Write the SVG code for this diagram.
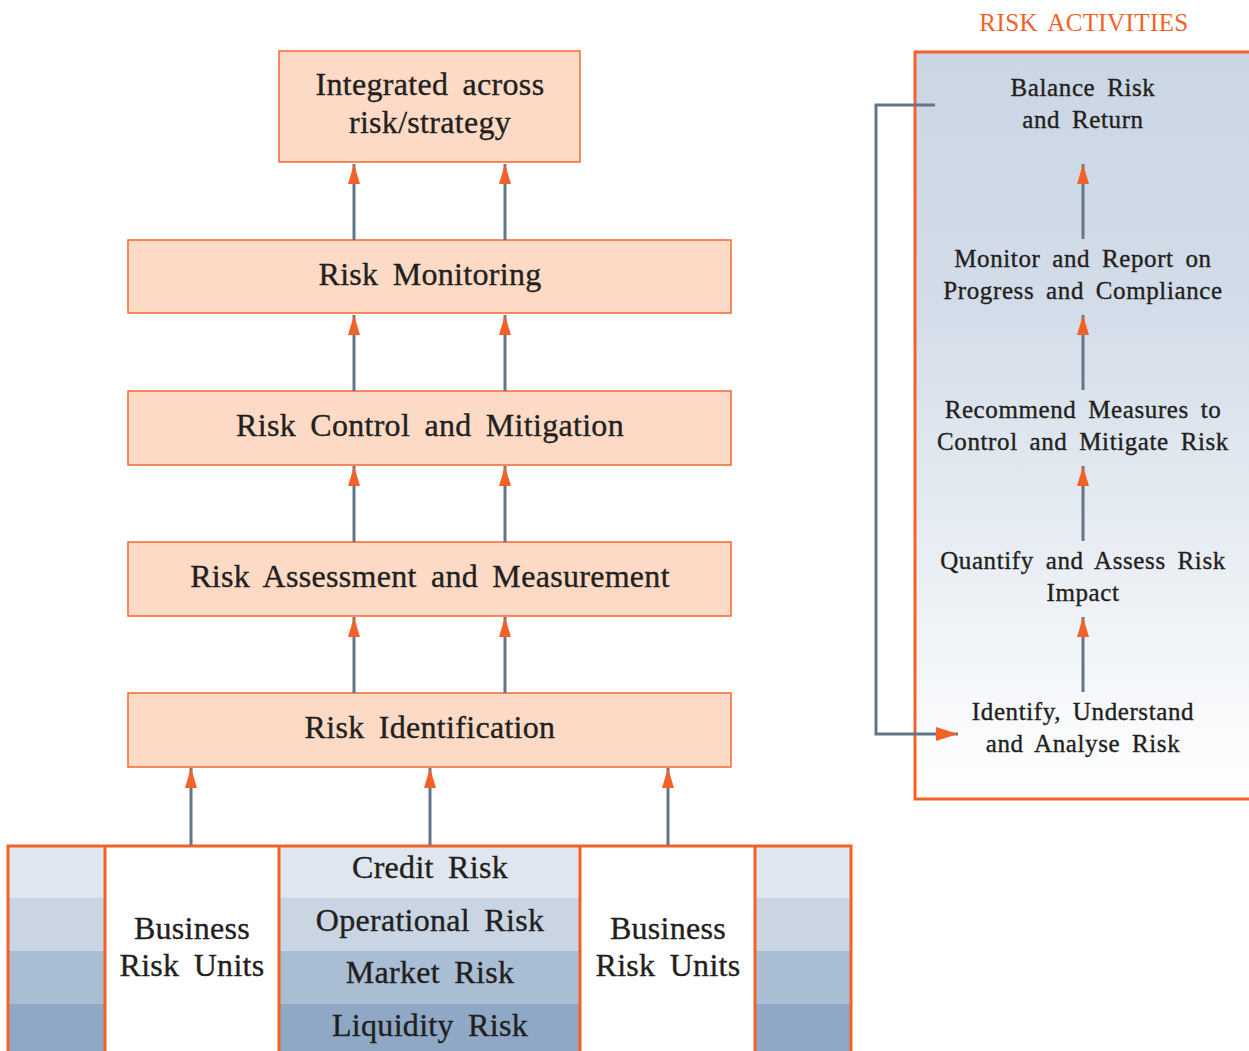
<svg xmlns="http://www.w3.org/2000/svg" width="1249" height="1051" viewBox="0 0 1249 1051">
<style>
.box{fill:#fcdac5;stroke:#f26a30;stroke-width:1.5}
.t{font-family:"Liberation Serif",serif;fill:#231f20;stroke:#231f20;stroke-width:0.35;text-anchor:middle}
.big{font-size:32px;word-spacing:6px;letter-spacing:0.3px}
.sm{font-size:25px;word-spacing:5px;letter-spacing:0.6px}
.ln{stroke:#627589;stroke-width:3;fill:none}
.or{stroke:#f26228;stroke-width:3;fill:none}
</style>
<defs>
<marker id="ah" viewBox="0 0 20 12" refX="20" refY="6" markerWidth="20" markerHeight="12" orient="auto" markerUnits="userSpaceOnUse">
<path d="M0,0 L20,6 L0,12 Z" fill="#f26228"/>
</marker>
<marker id="ah2" viewBox="0 0 22 14" refX="22" refY="7" markerWidth="22" markerHeight="14" orient="auto" markerUnits="userSpaceOnUse">
<path d="M0,0 L22,7 L0,14 Z" fill="#f26228"/>
</marker>
<linearGradient id="pg" x1="0" y1="0" x2="0" y2="1">
<stop offset="0" stop-color="#cad6e4"/>
<stop offset="0.35" stop-color="#d3dde9"/>
<stop offset="1" stop-color="#ffffff"/>
</linearGradient>
</defs>

<g id="n-integrated"><rect class="box" x="279" y="51" width="301" height="111"/>
<text class="t big" x="430" y="95">Integrated across</text><text class="t big" x="430" y="133">risk/strategy</text></g>
<g id="n-monitoring"><rect class="box" x="128" y="240" width="603" height="73"/><text class="t big" x="430" y="285">Risk Monitoring</text></g>
<g id="n-control"><rect class="box" x="128" y="391" width="603" height="74"/><text class="t big" x="430" y="436">Risk Control and Mitigation</text></g>
<g id="n-assessment"><rect class="box" x="128" y="542" width="603" height="74"/><text class="t big" x="430" y="587">Risk Assessment and Measurement</text></g>
<g id="n-identification"><rect class="box" x="128" y="693" width="603" height="74"/><text class="t big" x="430" y="738">Risk Identification</text></g>

<g id="n-bottom">
<rect x="8" y="846" width="843" height="52" fill="#dfe6ef"/>
<rect x="8" y="898" width="843" height="53" fill="#c9d5e3"/>
<rect x="8" y="951" width="843" height="53" fill="#a9bdd3"/>
<rect x="8" y="1004" width="843" height="50" fill="#8ea8c5"/>
<rect x="105" y="846" width="174" height="210" fill="#ffffff"/>
<rect x="580" y="846" width="175" height="210" fill="#ffffff"/>
<path class="or" d="M8,1056 V846 H851 V1056 M105,846 V1056 M279,846 V1056 M580,846 V1056 M755,846 V1056"/>
<text class="t big" x="430" y="878">Credit Risk</text>
<text class="t big" x="430" y="931">Operational Risk</text>
<text class="t big" x="430" y="983">Market Risk</text>
<text class="t big" x="430" y="1036">Liquidity Risk</text>
<text class="t big" x="192" y="939">Business</text><text class="t big" x="192" y="976">Risk Units</text>
<text class="t big" x="668" y="939">Business</text><text class="t big" x="668" y="976">Risk Units</text>
</g>

<g id="n-activities">
<text x="1084" y="31" font-family="Liberation Serif,serif" font-size="25" fill="#f26228" text-anchor="middle" word-spacing="4px" letter-spacing="0.4px">RISK ACTIVITIES</text>
<rect x="915" y="52" width="340" height="747" fill="url(#pg)" stroke="#f26228" stroke-width="3"/>
<text class="t sm" x="1083" y="96">Balance Risk</text><text class="t sm" x="1083" y="128">and Return</text>
<text class="t sm" x="1083" y="267">Monitor and Report on</text><text class="t sm" x="1083" y="299">Progress and Compliance</text>
<text class="t sm" x="1083" y="418">Recommend Measures to</text><text class="t sm" x="1083" y="450">Control and Mitigate Risk</text>
<text class="t sm" x="1083" y="569">Quantify and Assess Risk</text><text class="t sm" x="1083" y="601">Impact</text>
<text class="t sm" x="1083" y="720">Identify, Understand</text><text class="t sm" x="1083" y="752">and Analyse Risk</text>
</g>

<g id="connectors">
<line class="ln" x1="354" y1="240" x2="354" y2="164" marker-end="url(#ah)"/>
<line class="ln" x1="505" y1="240" x2="505" y2="164" marker-end="url(#ah)"/>
<line class="ln" x1="354" y1="391" x2="354" y2="315" marker-end="url(#ah)"/>
<line class="ln" x1="505" y1="391" x2="505" y2="315" marker-end="url(#ah)"/>
<line class="ln" x1="354" y1="542" x2="354" y2="466" marker-end="url(#ah)"/>
<line class="ln" x1="505" y1="542" x2="505" y2="466" marker-end="url(#ah)"/>
<line class="ln" x1="354" y1="693" x2="354" y2="617" marker-end="url(#ah)"/>
<line class="ln" x1="505" y1="693" x2="505" y2="617" marker-end="url(#ah)"/>
<line class="ln" x1="191" y1="845" x2="191" y2="768" marker-end="url(#ah)"/>
<line class="ln" x1="430" y1="845" x2="430" y2="768" marker-end="url(#ah)"/>
<line class="ln" x1="668" y1="845" x2="668" y2="768" marker-end="url(#ah)"/>
<line class="ln" x1="1083" y1="239" x2="1083" y2="164" marker-end="url(#ah)"/>
<line class="ln" x1="1083" y1="390" x2="1083" y2="315" marker-end="url(#ah)"/>
<line class="ln" x1="1083" y1="541" x2="1083" y2="466" marker-end="url(#ah)"/>
<line class="ln" x1="1083" y1="692" x2="1083" y2="617" marker-end="url(#ah)"/>
<path class="ln" d="M935,105 H876 V734 H958" marker-end="url(#ah2)"/>
</g>
</svg>
